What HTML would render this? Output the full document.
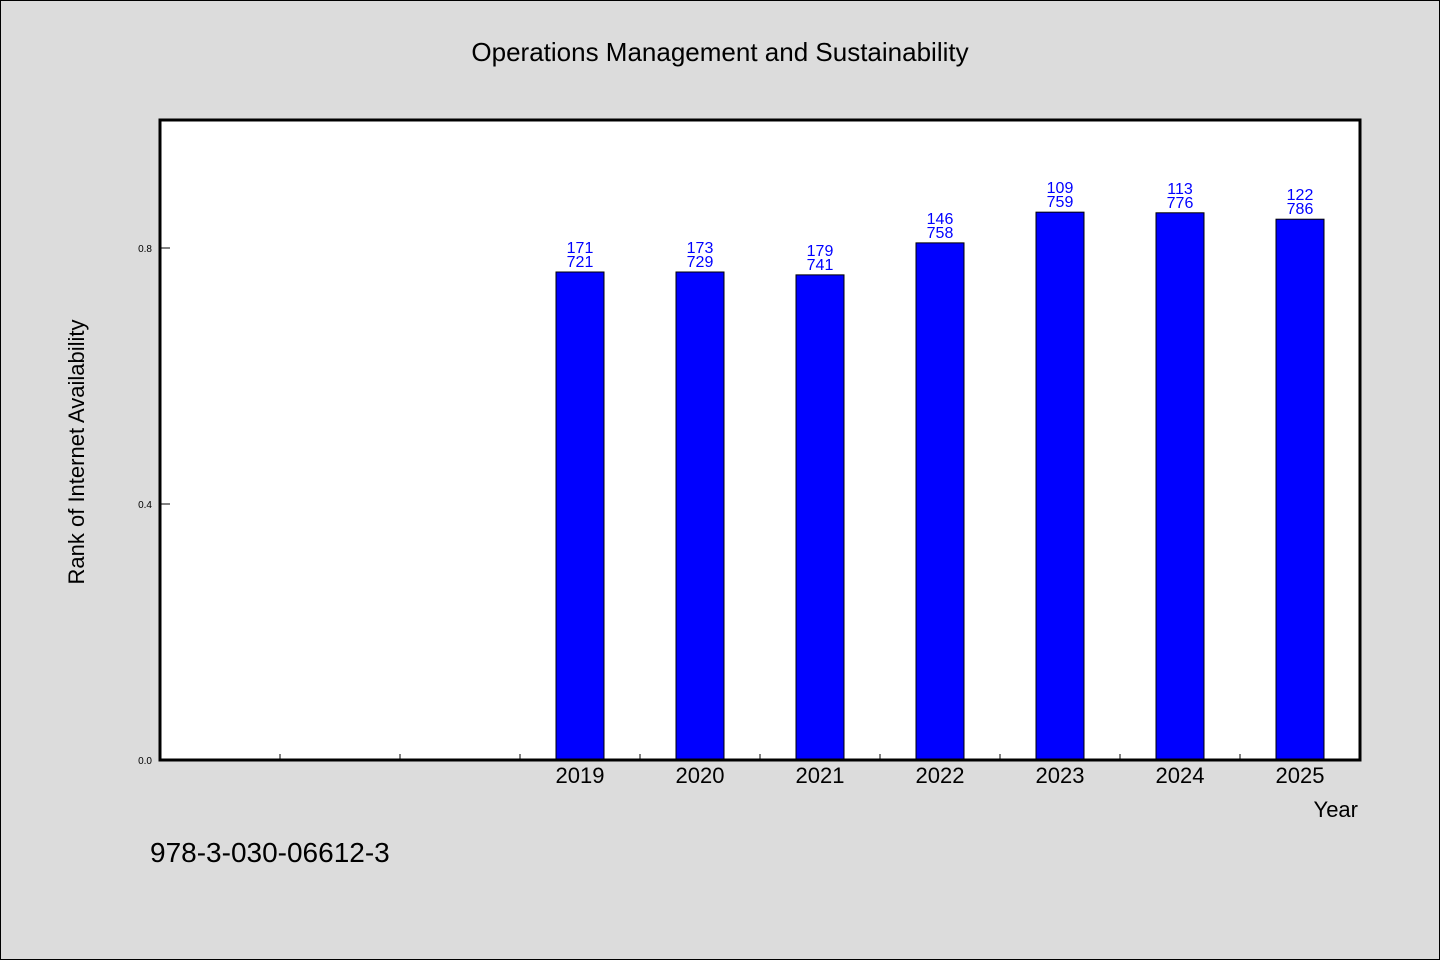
<!DOCTYPE html>
<html><head><meta charset="utf-8"><style>
html,body{margin:0;padding:0;background:#dcdcdc;}
svg{display:block;font-family:"WenQuanYi Zen Hei","Liberation Sans",sans-serif;}
</style></head><body>
<svg id="chart" width="1440" height="960" viewBox="0 0 1440 960">
<rect x="0.5" y="0.5" width="1439" height="959" fill="#dcdcdc" stroke="#000"/>
<text x="720" y="61" text-anchor="middle" font-size="26" fill="#000">Operations Management and Sustainability</text>
<rect x="160" y="120" width="1200" height="640" fill="#fff"/>
<g id="ticks"></g>
<g id="bars"></g>
<rect x="160" y="120" width="1200" height="640" fill="none" stroke="#000" stroke-width="3"/>
<text transform="translate(84,452) rotate(-90)" text-anchor="middle" font-size="22" fill="#000">Rank of Internet Availability</text>
<text x="1358" y="817" text-anchor="end" font-size="22" fill="#000">Year</text>
<text x="150" y="862" font-size="28" fill="#000">978-3-030-06612-3</text>
</svg>
<script>
const categories = ["", "", "", "2019", "2020", "2021", "2022", "2023", "2024", "2025"];
const values = [null, null, null, 0.7625, 0.7625, 0.758, 0.808, 0.856, 0.855, 0.845];
const labelTop = ["", "", "", "171", "173", "179", "146", "109", "113", "122"];
const labelBottom = ["", "", "", "721", "729", "741", "758", "759", "776", "786"];
const yTicks = [0.0, 0.4, 0.8];
const yTickLabels = ["0.0", "0.4", "0.8"];

const NS = "http://www.w3.org/2000/svg";
const X0 = 160, W = 1200, Y0 = 760, H = 640, YMAX = 1.0;
const slot = W / categories.length;
const xc = i => X0 + slot * (i + 0.5);
const y = v => Y0 - v / YMAX * H;
function mk(tag, attrs, parent, text) {
  const e = document.createElementNS(NS, tag);
  for (const k in attrs) e.setAttribute(k, attrs[k]);
  if (text !== undefined) e.textContent = text;
  parent.appendChild(e);
  return e;
}
const tg = document.getElementById("ticks");
const bg = document.getElementById("bars");
yTicks.forEach((t, i) => {
  const l = mk("line", {x1: X0, x2: X0 + 10, y1: y(t), y2: y(t), stroke: "#000", "stroke-width": 1}, tg);
  
  
  const tx = mk("text", {x: X0 - 8, y: y(t) + 4, "text-anchor": "end", "font-size": 10, fill: "#000"}, tg, yTickLabels[i]);
  
  
});
for (let i = 1; i < categories.length; i++) {
  const xx = X0 + slot * i;
  const l = mk("line", {x1: xx, x2: xx, y1: Y0, y2: Y0 - 6, stroke: "#000", "stroke-width": 1}, tg);
  
  
}
categories.forEach((c, i) => {
  if (c) {
    const t = mk("text", {x: xc(i), y: Y0 + 23, "text-anchor": "middle", "font-size": 22, fill: "#000"}, tg, c);
    
    
  }
  if (values[i] == null) return;
  const top = y(values[i]);
  const r = mk("rect", {x: xc(i) - 24, y: top, width: 48, height: Y0 - top, fill: "#0000ff", stroke: "#000", "stroke-width": 1}, bg);
  
  
  const t1 = mk("text", {x: xc(i), y: top - 19, "text-anchor": "middle", "font-size": 16, fill: "#0000ff"}, bg, labelTop[i]);
  
  
  const t2 = mk("text", {x: xc(i), y: top - 5, "text-anchor": "middle", "font-size": 16, fill: "#0000ff"}, bg, labelBottom[i]);
  
  
});
</script>
</body></html>
